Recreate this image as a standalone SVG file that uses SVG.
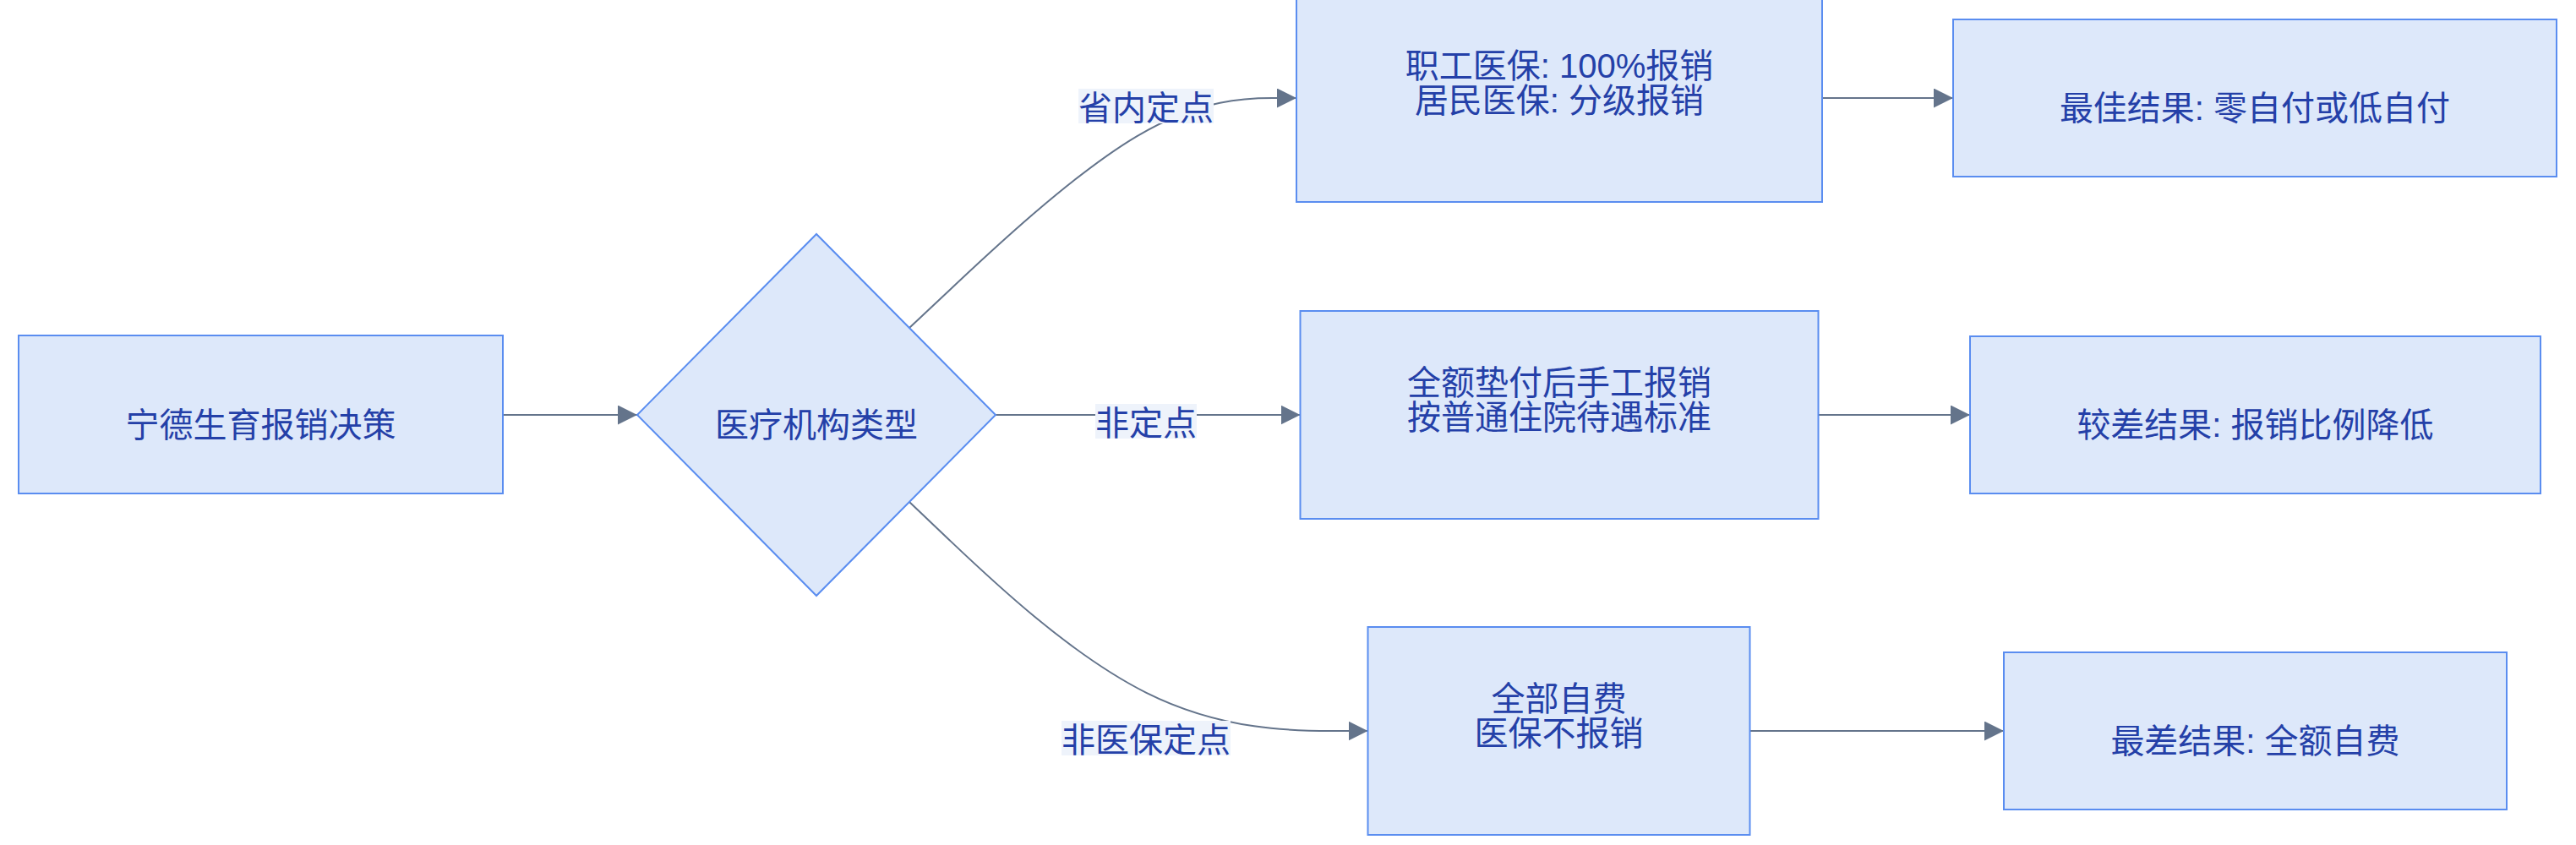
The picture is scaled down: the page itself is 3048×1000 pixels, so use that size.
<svg xmlns="http://www.w3.org/2000/svg" width="3048" height="1000" viewBox="0 0 3048 1000">
<defs>
<style>
.node rect, .node polygon { fill: #dde8fa; stroke: #5a8df0; stroke-width: 2; }
.node text { font-family: "Liberation Sans", "Noto Sans CJK SC", sans-serif; font-size: 40px; fill: #2440a8; text-anchor: middle; }
.edge { fill: none; stroke: #64748b; stroke-width: 2; marker-end: url(#arrow); }
.lbl rect { fill: #eef3fb; }
.lbl text { font-family: "Liberation Sans", "Noto Sans CJK SC", sans-serif; font-size: 40px; fill: #2440a8; text-anchor: middle; }
</style>
<marker id="arrow" markerUnits="userSpaceOnUse" markerWidth="23" markerHeight="23" refX="23" refY="11.5" orient="auto">
<path d="M0,0 L23,11.5 L0,23 z" fill="#64748b"/>
</marker>
</defs>
<rect width="3048" height="1000" fill="#ffffff"/>
<g id="connectors">
<path class="edge" d="M595,491 L754,491"/>
<path class="edge" d="M1076,388 L1124.2,342.7 C1172.3,297.3 1268.7,206.7 1345,161.3 C1421.3,116 1477.7,116 1505.8,116 L1534,116"/>
<path class="edge" d="M1178,491 L1538.5,491"/>
<path class="edge" d="M1076,594 L1123.5,639.2 C1171,684.3 1266,774.7 1356.4,819.8 C1446.8,865 1532.7,865 1575.6,865 L1618.5,865"/>
<path class="edge" d="M2156,116 L2311,116"/>
<path class="edge" d="M2151.5,491 L2331,491"/>
<path class="edge" d="M2070.5,865 L2371,865"/>
<g class="lbl" id="label-province">
<rect x="1276" y="105" width="160" height="41"/>
<text x="1356" y="142">省内定点</text>
</g>
<g class="lbl" id="label-nondesignated">
<rect x="1296" y="478" width="120" height="41"/>
<text x="1356" y="515">非定点</text>
</g>
<g class="lbl" id="label-noninsured">
<rect x="1256" y="853" width="200" height="41"/>
<text x="1356" y="890">非医保定点</text>
</g>
</g>
<g class="node" id="start">
<rect x="22" y="397" width="573" height="187"/>
<text x="308.5" y="517">宁德生育报销决策</text>
</g>
<g class="node" id="decision">
<polygon points="754,491 966,277 1178,491 966,705"/>
<text x="966" y="517">医疗机构类型</text>
</g>
<g class="node" id="designated">
<rect x="1534" y="-7" width="622" height="246"/>
<text x="1845" y="92">职工医保: 100%报销</text>
<text x="1845" y="133">居民医保: 分级报销</text>
</g>
<g class="node" id="nondesignated">
<rect x="1538.5" y="368" width="613" height="246"/>
<text x="1845" y="467">全额垫付后手工报销</text>
<text x="1845" y="508">按普通住院待遇标准</text>
</g>
<g class="node" id="noninsured">
<rect x="1618.5" y="742" width="452" height="246"/>
<text x="1844.5" y="841">全部自费</text>
<text x="1844.5" y="882">医保不报销</text>
</g>
<g class="node" id="best">
<rect x="2311" y="23" width="714" height="186"/>
<text x="2668" y="142">最佳结果: 零自付或低自付</text>
</g>
<g class="node" id="worse">
<rect x="2331" y="398" width="675" height="186"/>
<text x="2668.5" y="517">较差结果: 报销比例降低</text>
</g>
<g class="node" id="worst">
<rect x="2371" y="772" width="595" height="186"/>
<text x="2668.5" y="891">最差结果: 全额自费</text>
</g>
</svg>
